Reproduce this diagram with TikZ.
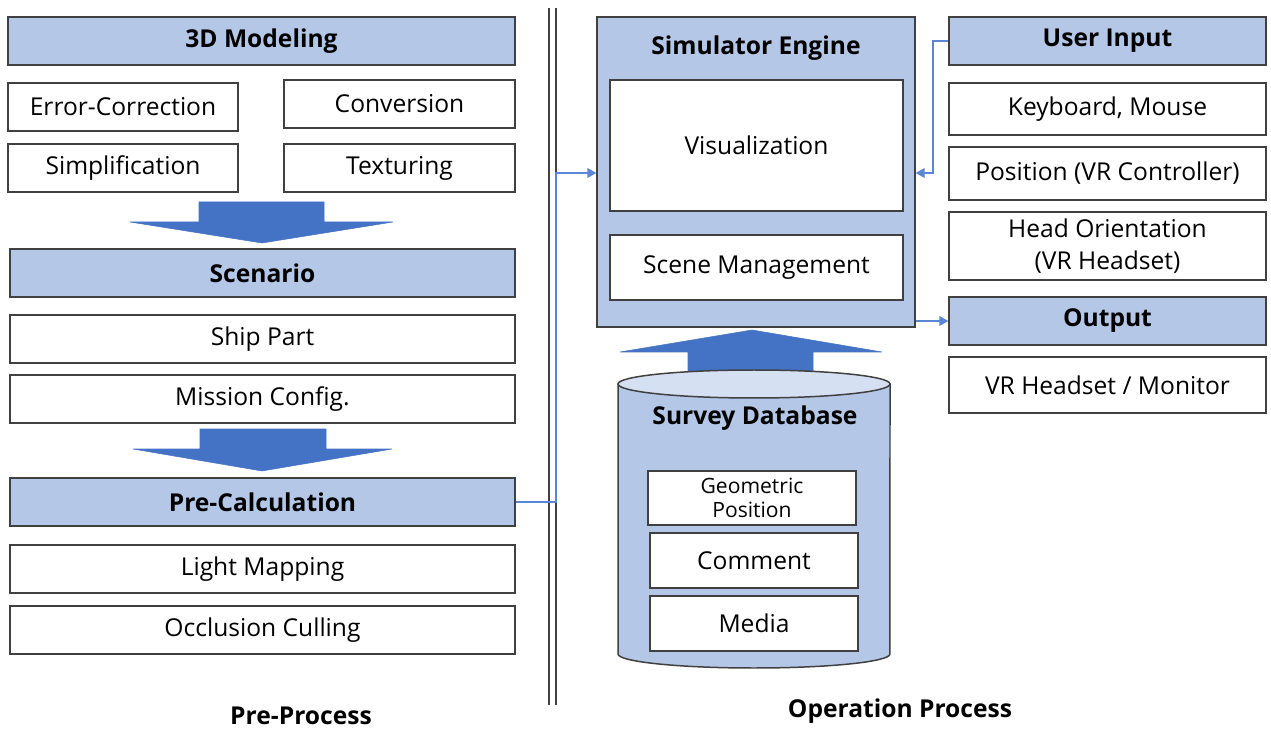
\documentclass[tikz,border=0pt]{standalone}
\usepackage{fontspec}
\setmainfont{Open Sans}
\usetikzlibrary{arrows.meta}
\definecolor{hdrblue}{HTML}{B4C7E7}
\definecolor{arrblue}{HTML}{4472C4}
\definecolor{linkblue}{HTML}{5B86D6}
\definecolor{topblue}{HTML}{D6E0F3}
\definecolor{edgegray}{HTML}{404040}
\begin{document}
\begin{tikzpicture}[x=0.02cm, y=-0.02cm,
    blk/.style 2 args={draw=edgegray, line width=0.85pt, minimum width=#1*0.02cm,
      minimum height=#2*0.02cm, inner sep=0pt, align=center,
      font=\fontsize{14}{18.5}\selectfont},
    hdr/.style 2 args={blk={#1}{#2}, fill=hdrblue,
      font=\fontsize{14}{17}\selectfont\bfseries},
    item/.style 2 args={blk={#1}{#2}, fill=white},
    title/.style={font=\fontsize{14}{17}\selectfont\bfseries},
    link/.style={draw=linkblue, line width=0.6pt, -{Triangle[length=5pt,width=5.5pt]}},
    bigarrow/.style={fill=arrblue, draw=arrblue, line width=0.3pt}]
  \useasboundingbox (0,0) rectangle (1271,729);

  % pre-process column
  \node (model)   [hdr={507}{48}]  at (261.5,41)  {3D Modeling};
  \node (errcorr) [item={230}{48}] at (123,107)   {Error-Correction};
  \node (conv)    [item={231}{48}] at (399.5,104) {Conversion};
  \node (simpl)   [item={230}{48}] at (123,168)   {Simplification};
  \node (textur)  [item={231}{48}] at (399.5,168) {Texturing};
  \node (scen)    [hdr={505}{48}]  at (262.5,273) {Scenario};
  \node (ship)    [item={505}{48}] at (262.5,339) {Ship Part};
  \node (mission) [item={505}{48}] at (262.5,399) {Mission Config.};
  \node (precalc) [hdr={505}{48}]  at (262.5,502) {Pre-Calculation};
  \node (light)   [item={505}{48}] at (262.5,569) {Light Mapping};
  \node (occl)    [item={505}{48}] at (262.5,630) {Occlusion Culling};
  \node (prelbl)  [title] at (301,716) {Pre-Process};

  \fill[bigarrow] (199,202) -- (324,202) -- (324,222) -- (393,222) -- (262,243)
    -- (130,222) -- (199,222) -- cycle;
  \fill[bigarrow] (200,429) -- (326,429) -- (326,449) -- (392,449) -- (262,471)
    -- (133,449) -- (200,449) -- cycle;

  % separator
  \draw[edgegray, line width=0.8pt] (549,8) -- (549,705);
  \draw[edgegray, line width=0.8pt] (556,8) -- (556,705);

  % operation process
  \node (engine)  [blk={318}{310}, fill=hdrblue] at (756,172) {};
  \node (engttl)  [title] at (756,48) {Simulator Engine};
  \node (vis)     [item={293}{131}] at (756.5,145.5) {Visualization};
  \node (scene)   [item={293}{65}]  at (756.5,267.5) {Scene Management};

  \fill[bigarrow] (688,374) -- (688,352) -- (620,352) -- (752,330) -- (882,352)
    -- (813,352) -- (813,374) -- cycle;

  \draw[edgegray, line width=0.85pt, fill=hdrblue] (618,384) -- (618,654)
    arc[start angle=180, end angle=360, x radius=2.72cm, y radius=0.28cm]
    -- (890,384) -- cycle;
  \draw[edgegray, line width=0.85pt, fill=topblue] (754,384)
    ellipse[x radius=2.72cm, y radius=0.28cm];
  \node (db)      [title] at (755,418) {Survey Database};
  \node (geom)    [item={208}{54}, font=\fontsize{12}{14}\selectfont] at (752,498)
    {Geometric\\Position};
  \node (comment) [item={208}{55}] at (754,560.5) {Comment};
  \node (media)   [item={208}{55}] at (754,623.5) {Media};
  \node (oplbl)   [title] at (900,711) {Operation Process};

  % input / output column
  \node (user)    [hdr={317}{48}]  at (1107.5,41)  {User Input};
  \node (keyb)    [item={317}{52}] at (1107.5,109) {Keyboard, Mouse};
  \node (pos)     [item={317}{53}] at (1107.5,173.5) {Position (VR Controller)};
  \node (head)    [item={317}{68}] at (1107.5,246) {Head Orientation\\(VR Headset)};
  \node (out)     [hdr={317}{48}]  at (1107.5,321) {Output};
  \node (vr)      [item={317}{56}] at (1107.5,385) {VR Headset / Monitor};

  % connectors
  \coordinate (pbend) at (556,173);
  \coordinate (ubend) at (933,173);
  \draw[link] (precalc.east) -| (pbend) -- (pbend -| engine.west);
  \draw[link] (user.west) -| (ubend) -- (ubend -| engine.east);
  \draw[link] (out.west -| engine.east) -- (out.west);
\end{tikzpicture}
\end{document}
